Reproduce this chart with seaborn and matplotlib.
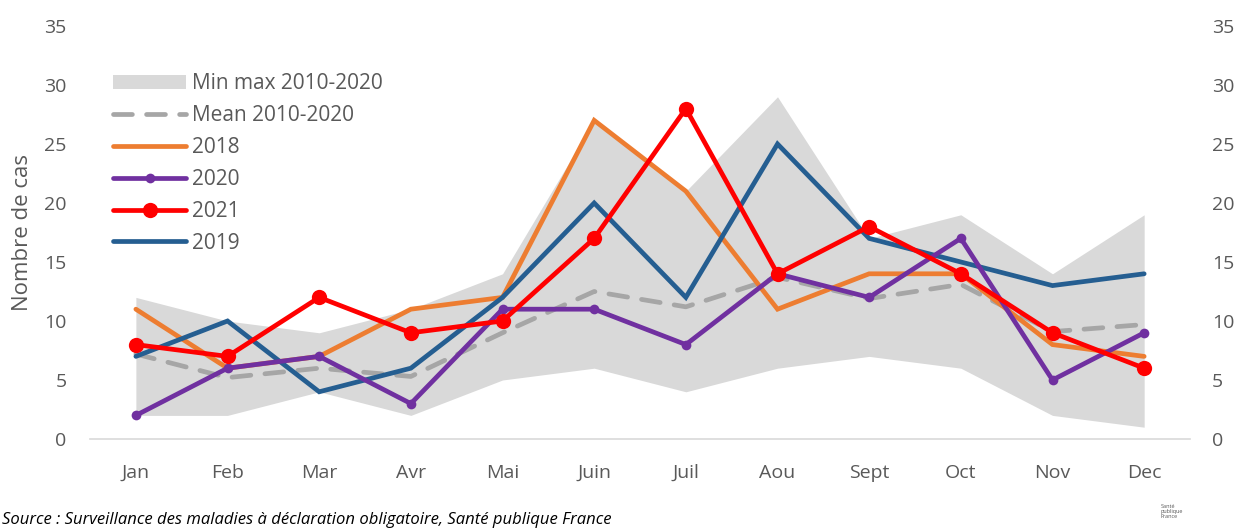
import matplotlib
matplotlib.use("Agg")
import matplotlib.pyplot as plt
import seaborn as sns
import pandas as pd
import numpy as np

months = ["Jan", "Feb", "Mar", "Avr", "Mai", "Juin", "Juil", "Aou", "Sept", "Oct", "Nov", "Dec"]
band_min = [2, 2, 4, 2, 5, 6, 4, 6, 7, 6, 2, 1]
band_max = [12, 10, 9, 11, 14, 27, 21, 29, 17, 19, 14, 19]
mean_2010_2020 = [7.2, 5.2, 6.0, 5.3, 9.0, 12.5, 11.2, 13.7, 11.9, 13.1, 9.1, 9.7]
y2018 = [11, 6, 7, 11, 12, 27, 21, 11, 14, 14, 8, 7]
y2019 = [7, 10, 4, 6, 12, 20, 12, 25, 17, 15, 13, 14]
y2020 = [2, 6, 7, 3, 11, 11, 8, 14, 12, 17, 5, 9]
y2021 = [8, 7, 12, 9, 10, 17, 28, 14, 18, 14, 9, 6]
y_ticks = [0, 5, 10, 15, 20, 25, 30, 35]

sns.set_theme(style="white")
plt.rcParams["font.family"] = ["Open Sans", "DejaVu Sans"]

GREY_TXT = "#595959"
C_BAND = "#D9D9D9"
C_MEAN = "#A6A6A6"
C_2018 = "#ED7D31"
C_2019 = "#255E91"
C_2020 = "#7030A0"
C_2021 = "#FF0000"
FS = 14

fig = plt.figure(figsize=(12.37, 5.30), dpi=100)
ax = fig.add_axes([0.0728, 0.1717, 0.8892, 0.7793])

df = pd.DataFrame({
    "month": months,
    "mean": mean_2010_2020,
    "2018": y2018,
    "2019": y2019,
    "2020": y2020,
    "2021": y2021,
})
xpos = np.arange(len(months))

band = ax.fill_between(xpos, band_min, band_max, color=C_BAND, lw=0, zorder=1,
                       label="Min max 2010-2020")

sns.lineplot(data=df, x="month", y="mean", ax=ax, color=C_MEAN, lw=3.4,
             dashes=False, sort=False, zorder=2)
mean_line = ax.lines[-1]
mean_line.set_dashes((4, 3))
mean_line.set_dash_capstyle("round")
mean_line.set_label("Mean 2010-2020")

sns.lineplot(data=df, x="month", y="2018", ax=ax, color=C_2018, lw=3.4, sort=False, zorder=3)
l2018 = ax.lines[-1]
l2018.set_label("2018")
sns.lineplot(data=df, x="month", y="2019", ax=ax, color=C_2019, lw=3.4, sort=False, zorder=4)
l2019 = ax.lines[-1]
l2019.set_label("2019")
sns.lineplot(data=df, x="month", y="2020", ax=ax, color=C_2020, lw=3.4, sort=False,
             marker="o", markersize=7, markeredgewidth=0, zorder=5)
l2020 = ax.lines[-1]
l2020.set_label("2020")
sns.lineplot(data=df, x="month", y="2021", ax=ax, color=C_2021, lw=3.4, sort=False,
             marker="o", markersize=11, markeredgewidth=0, zorder=6)
l2021 = ax.lines[-1]
l2021.set_label("2021")

for ln in [l2018, l2019, l2020, l2021]:
    ln.set_solid_capstyle("round")
    ln.set_solid_joinstyle("miter")

ax.set_xlim(-0.5, len(months) - 0.5)
ax.set_ylim(0, 35)
ax.set_yticks(y_ticks)
ax.set_xlabel("")
ax.set_ylabel("Nombre de cas", fontsize=16, color=GREY_TXT, labelpad=8)
ax.tick_params(axis="y", labelsize=FS, colors=GREY_TXT, length=0, pad=17)
ax.tick_params(axis="x", labelsize=FS, colors=GREY_TXT, length=0, pad=18)
for s in ["top", "right", "left"]:
    ax.spines[s].set_visible(False)
ax.spines["bottom"].set_color(C_BAND)
ax.spines["bottom"].set_linewidth(1.2)
ax.grid(False)

ax2 = ax.twinx()
ax2.set_ylim(0, 35)
ax2.set_yticks(y_ticks)
ax2.tick_params(axis="y", labelsize=FS, colors=GREY_TXT, length=0, pad=16)
for s in ["top", "right", "left", "bottom"]:
    ax2.spines[s].set_visible(False)
ax2.grid(False)

handles = [band, mean_line, l2018, l2020, l2021, l2019]
labels = ["Min max 2010-2020", "Mean 2010-2020", "2018", "2020", "2021", "2019"]
leg = ax.legend(handles, labels, loc="upper left", bbox_to_anchor=(0.021, 0.885),
                frameon=False, fontsize=15, labelcolor=GREY_TXT, handlelength=3.5,
                handletextpad=0.3, labelspacing=0.52, borderaxespad=0, borderpad=0)

fig.text(0.002, 0.012, "Source : Surveillance des maladies à déclaration obligatoire, Santé publique France",
         fontsize=12, style="italic", color="#000000", ha="left", va="baseline")
fig.text(0.938, 0.035, "Santé\npublique\nFrance", fontsize=4, color="#555555",
         ha="left", va="center", linespacing=1.0)

fig.savefig("out.png", dpi=100)
